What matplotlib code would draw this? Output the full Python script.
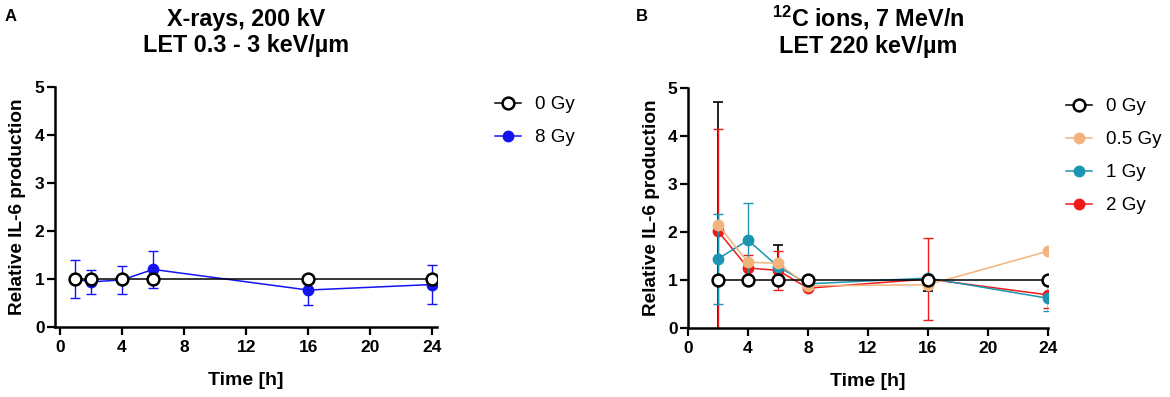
import matplotlib
matplotlib.use("Agg")
import matplotlib.pyplot as plt
import numpy as np

plt.rcParams["font.family"] = ["Liberation Sans", "DejaVu Sans"]
plt.rcParams["mathtext.fontset"] = "custom"
plt.rcParams["mathtext.rm"] = "Liberation Sans"
plt.rcParams["mathtext.bf"] = "Liberation Sans:bold"

# Panel A: X-rays
time_a = [1, 2, 4, 6, 16, 24]
ctrl_a = [1.0, 1.0, 1.0, 1.0, 1.0, 1.0]
gy8_a = [1.0, 0.94, 0.98, 1.2, 0.77, 0.885]
gy8_a_err = [0.4, 0.25, 0.29, 0.38, 0.31, 0.40]

# Panel B: 12C ions
time_b = [2, 4, 6, 8, 16, 24]
ctrl_b = [1.0, 1.0, 1.0, 1.0, 1.0, 1.0]
ctrl_b_lo = [3.7, 0.0, 0.0, 0.0, 0.22, 0.0]
ctrl_b_hi = [3.7, 0.0, 0.72, 0.0, 0.0, 0.0]
gy05_b = [2.15, 1.37, 1.35, 0.88, 0.90, 1.60]
gy1_b = [1.44, 1.83, 1.28, 0.92, 1.04, 0.62]
gy1_b_err = [0.93, 0.77, 0.0, 0.0, 0.0, 0.27]
gy2_b = [2.02, 1.25, 1.20, 0.83, 1.02, 0.69]
gy2_b_err = [2.12, 0.28, 0.41, 0.0, 0.85, 0.28]

BLUE = "#1414F0"
ORANGE = "#F2B47C"
TEAL = "#1C95B2"
RED = "#EE1B1B"

W, H = 1170, 397
fig = plt.figure(figsize=(W / 100, H / 100), dpi=100)


def px_axes(left, right, top, bottom):
    return fig.add_axes([left / W, 1 - bottom / H, (right - left) / W, (bottom - top) / H])


def style(ax, xlim):
    for s in ("top", "right"):
        ax.spines[s].set_visible(False)
    for s in ("left", "bottom"):
        ax.spines[s].set_linewidth(1.8)
    ax.set_xlim(*xlim)
    ax.set_ylim(0, 5)
    ax.set_xticks([0, 4, 8, 12, 16, 20, 24])
    ax.set_yticks([0, 1, 2, 3, 4, 5])
    ax.tick_params(direction="out", length=5.5, width=1.6, labelsize=12.5, pad=2)
    ax.tick_params(axis="x", pad=4)
    for lab in ax.get_xticklabels() + ax.get_yticklabels():
        lab.set_fontweight("bold")
    ax.set_xlabel("Time [h]", fontsize=14, fontweight="bold", labelpad=12)
    ax.set_ylabel("Relative IL-6 production", fontsize=13.7, fontweight="bold", labelpad=6)


def open_circle(ax, x, y, **kw):
    return ax.plot(x, y, color="black", lw=1.1, marker="o", ms=8.5, mfc="white",
                   mec="black", mew=1.8, **kw)[0]


def add_legend(ax, handles, labels, x, y):
    ax.legend(handles, labels, loc="upper left", bbox_to_anchor=(x / W, 1 - y / H),
              bbox_transform=fig.transFigure, frameon=False, fontsize=13.5,
              handlelength=1.4, handletextpad=0.75, labelspacing=0.85,
              borderpad=0, borderaxespad=0)


ebkw = dict(elinewidth=1.0, capsize=3.5, capthick=1.0, lw=1.1, marker="o", ms=7.5)
title_kw = dict(fontsize=16.8, fontweight="bold", pad=25.5, linespacing=1.12)

# ---- Panel A
ax1 = px_axes(55, 437, 87, 327)
e8 = ax1.errorbar(time_a, gy8_a, yerr=gy8_a_err, color=BLUE, zorder=2, **ebkw)
c0 = open_circle(ax1, time_a, ctrl_a, zorder=3)
style(ax1, (-0.32, 24.3))
ax1.set_title("X-rays, 200 kV\nLET 0.3 - 3 keV/µm", **title_kw)
add_legend(ax1, [c0, e8[0]], ["0 Gy", "8 Gy"], 495, 96)

# ---- Panel B
ax2 = px_axes(688, 1048, 88, 328)
ax2.errorbar(time_b, ctrl_b, yerr=[ctrl_b_lo, ctrl_b_hi], color="black", fmt="none",
             elinewidth=1.2, capsize=3.5, capthick=1.2, zorder=1)
e2 = ax2.errorbar(time_b, gy2_b, yerr=gy2_b_err, color=RED, zorder=2, **ebkw)
e1 = ax2.errorbar(time_b, gy1_b, yerr=gy1_b_err, color=TEAL, zorder=2.1, **ebkw)
l05 = ax2.plot(time_b, gy05_b, color=ORANGE, lw=1.1, marker="o", ms=7.5, zorder=2.2)[0]
c0b = open_circle(ax2, time_b, ctrl_b, zorder=3)
style(ax2, (0, 24))
ax2.set_title("$^{\\mathbf{12}}$C ions, 7 MeV/n\nLET 220 keV/µm", **title_kw)
add_legend(ax2, [c0b, l05, e1[0], e2[0]], ["0 Gy", "0.5 Gy", "1 Gy", "2 Gy"], 1066, 98)

fig.text(5 / W, 1 - 9 / H, "A", fontsize=12, fontweight="bold", va="top", ha="left")
fig.text(636 / W, 1 - 9 / H, "B", fontsize=12, fontweight="bold", va="top", ha="left")

fig.savefig("out.png", dpi=100)
